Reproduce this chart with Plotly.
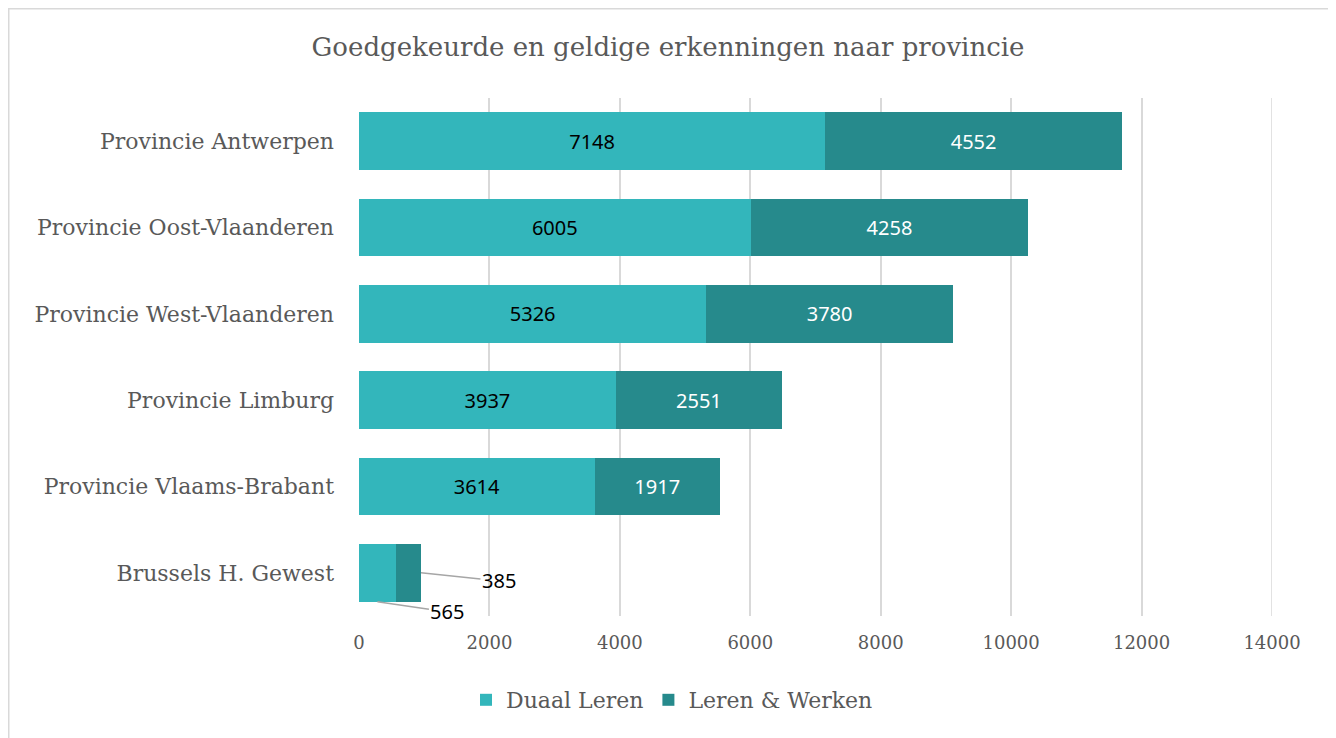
import plotly.graph_objects as go

provinces = ["Provincie Antwerpen", "Provincie Oost-Vlaanderen", "Provincie West-Vlaanderen",
             "Provincie Limburg", "Provincie Vlaams-Brabant", "Brussels H. Gewest"]
duaal_leren = [7148, 6005, 5326, 3937, 3614, 565]
leren_werken = [4552, 4258, 3780, 2551, 1917, 385]
x_ticks = [0, 2000, 4000, 6000, 8000, 10000, 12000, 14000]

C1 = "#33B6BB"
C2 = "#268A8C"
FONT = "DejaVu Serif"
NUMFONT = "Noto Sans"
GRAY = "#595959"

def inside_text(vals, small_idx):
    return [("" if i == small_idx else str(v)) for i, v in enumerate(vals)]

fig = go.Figure()
fig.add_trace(go.Bar(
    y=provinces, x=duaal_leren, orientation="h", name="Duaal Leren",
    marker=dict(color=C1, line=dict(width=0)),
    text=inside_text(duaal_leren, 5), textposition="inside", insidetextanchor="middle",
    textfont=dict(color="black", size=20, family=NUMFONT), hoverinfo="x+y"))
fig.add_trace(go.Bar(
    y=provinces, x=leren_werken, orientation="h", name="Leren & Werken",
    marker=dict(color=C2, line=dict(width=0)),
    text=inside_text(leren_werken, 5), textposition="inside", insidetextanchor="middle",
    textfont=dict(color="white", size=20, family=NUMFONT), hoverinfo="x+y"))

# Brussels outside labels with leader lines
b = provinces[5]
fig.add_annotation(x=duaal_leren[5] / 2, y=b, yshift=-29, text=str(duaal_leren[5]),
                   showarrow=True, arrowhead=0, arrowcolor="#a6a6a6", arrowwidth=1.5,
                   ax=70, ay=10, xanchor="center",
                   font=dict(size=20, color="black", family=NUMFONT))
fig.add_annotation(x=duaal_leren[5] + leren_werken[5], y=b, text=str(leren_werken[5]),
                   showarrow=True, arrowhead=0, arrowcolor="#a6a6a6", arrowwidth=1.5,
                   ax=78, ay=8, xanchor="center",
                   font=dict(size=20, color="black", family=NUMFONT))

W, H = 1336, 738
OFF = 8  # page body margin
l, r, t, bm = 359 - OFF, 64 + OFF, 98 - OFF, 122 + OFF
pw, ph = W - l - r, H - t - bm
fig.add_shape(type="rect", xref="paper", yref="paper",
              x0=(0.75 - l) / pw, x1=(1330 - OFF - l) / pw,
              y0=-(H - 1 - (t + ph)) / ph, y1=1 + (t - 0.75) / ph,
              line=dict(color="#d9d9d9", width=1.5), fillcolor="rgba(0,0,0,0)", layer="below")
# gridline at the last tick (at the axis edge)
fig.add_shape(type="line", xref="x", yref="paper", x0=x_ticks[-1], x1=x_ticks[-1],
              y0=0, y1=1, line=dict(color="#d9d9d9", width=1.5), layer="below")

fig.update_layout(
    width=W, height=H, barmode="stack", bargap=0.33,
    margin=dict(l=l, r=r, t=t, b=bm),
    paper_bgcolor="white", plot_bgcolor="white",
    title=dict(text="Goedgekeurde en geldige erkenningen naar provincie",
               x=(668 - OFF) / W, xref="container", y=1 - (47 - OFF) / H, yanchor="middle",
               xanchor="center",
               font=dict(size=26, color=GRAY, family=FONT)),
    font=dict(family=FONT, color=GRAY),
    xaxis=dict(range=[0, 14000], tickvals=x_ticks, ticktext=[str(v) for v in x_ticks],
               showgrid=True, gridcolor="#d9d9d9",
               gridwidth=1.5, zeroline=False, showline=False,
               tickfont=dict(size=18, color=GRAY), ticks="", ticklabelstandoff=14),
    yaxis=dict(autorange="reversed", showgrid=False, showline=False, ticks="",
               tickfont=dict(size=22, color=GRAY), ticklabelstandoff=24),
    legend=dict(orientation="h", x=(672 - OFF) / W, xanchor="center", xref="container",
                y=1 - (700 - OFF) / H, yref="container", yanchor="middle",
                font=dict(size=22, color=GRAY, family=FONT), itemwidth=30,
                traceorder="normal"),
    showlegend=True,
)
fig.write_html("out.html")
